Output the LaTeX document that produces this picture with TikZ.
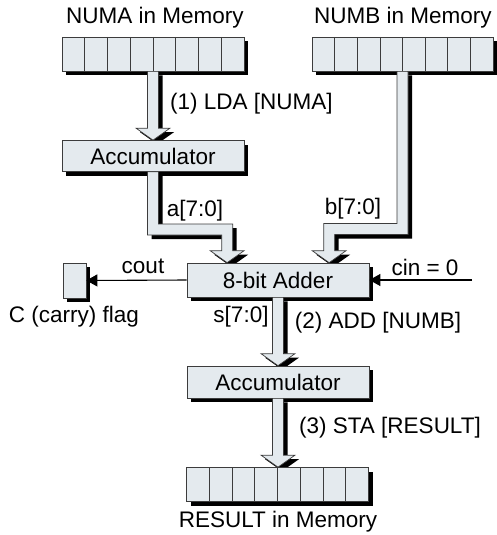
\documentclass[tikz,border=0pt]{standalone}
\usepackage{fontspec}
\setmainfont{Liberation Sans}
\usetikzlibrary{calc,arrows.meta}
\pgfdeclarelayer{back}
\pgfdeclarelayer{front}
\pgfsetlayers{back,main,front}
\definecolor{boxfill}{RGB}{228,234,238}
\definecolor{bordergray}{RGB}{60,60,60}
\newcommand\lbl{\fontsize{22.5}{26}\selectfont}
\tikzset{
  box/.style={draw=bordergray, line width=0.7pt, fill=boxfill, inner sep=0pt, font=\lbl,
    preaction={fill=black, transform canvas={shift={(4pt,-4pt)}}}},
  memory/.style={box, minimum width=182pt, minimum height=34pt,
    path picture={\foreach \i in {1,...,7}{\draw[bordergray,line width=0.7pt]
      ($(path picture bounding box.north west)!\i/8!(path picture bounding box.north east)$) --
      ($(path picture bounding box.south west)!\i/8!(path picture bounding box.south east)$);}}},
  regbox/.style={box, minimum width=182pt, minimum height=#1},
  lab/.style={font=\lbl, inner sep=0pt},
  fatshadow/.style={fill=black, transform canvas={shift={(4pt,-4pt)}}},
  fatbody/.style={fill=boxfill, draw=bordergray, line width=0.7pt},
  thin/.style={draw=black, line width=1.1pt, -{Triangle[length=11pt,width=12pt]}}
}
% straight vertical fat arrow from #1 down to #2
\newcommand\vfat[2]{%
  \foreach \lay/\sty in {back/fatshadow,front/fatbody}{%
    \begin{pgfonlayer}{\lay}
    \path[\sty] let \p1=(#1), \p2=(#2) in
      ({\x1-5.5pt},\y1) -- ({\x1-5.5pt},{\y2+12pt}) -- ({\x1-17pt},{\y2+12pt}) -- (\x1,\y2) --
      ({\x1+17pt},{\y2+12pt}) -- ({\x1+5.5pt},{\y2+12pt}) -- ({\x1+5.5pt},\y1) -- cycle;
    \end{pgfonlayer}}}
% bent fat arrow: start #1, bend height #2, end #3, signed half width #4, signed head half width #5
\newcommand\bfat[5]{%
  \foreach \lay/\sty in {back/fatshadow,front/fatbody}{%
    \begin{pgfonlayer}{\lay}
    \path[\sty] let \p1=(#1), \p2=(#2), \p3=(#3) in
      ({\x1-#4},\y1) -- ({\x1-#4},{\y2-5.5pt}) -- ({\x3-#4},{\y2-5.5pt}) -- ({\x3-#4},{\y3+12pt}) --
      ({\x3-#5},{\y3+12pt}) -- (\x3,\y3) -- ({\x3+#5},{\y3+12pt}) -- ({\x3+#4},{\y3+12pt}) --
      ({\x3+#4},{\y2+5.5pt}) -- ({\x1+#4},{\y2+5.5pt}) -- ({\x1+#4},\y1) -- cycle;
    \end{pgfonlayer}}}
\begin{document}
\begin{tikzpicture}[x=1pt,y=-1pt]
\useasboundingbox (0,0) rectangle (496,535);
% boxes
\node[memory] (numa) at (153,54) {};
\node[memory, minimum width=181pt] (numb) at (402.5,54) {};
\node[regbox=31pt] (acc1) at (153,156) {Accumulator};
\node[regbox=34pt] (adder) at (278,280) {8-bit Adder};
\node[box, minimum width=23pt, minimum height=35pt] (flag) at (74.5,280.5) {};
\node[regbox=32pt] (acc2) at (278,382) {Accumulator};
\node[memory] (result) at (277.5,484.5) {};
% labels
\node[lab] (tnuma) at (155,18) {NUMA in Memory};
\node[lab] (tnumb) at (403,18) {NUMB in Memory};
\node[lab] (tlda) at (251.5,104) {(1) LDA [NUMA]};
\node[lab] (ta) at (195,211) {a[7:0]};
\node[lab] (tb) at (353,209) {b[7:0]};
\node[lab] (tcout) at (143,266) {cout};
\node[lab] (tcin) at (425,267) {cin = 0};
\node[lab] (tflag) at (74,317) {C (carry) flag};
\node[lab] (ts) at (241,317) {s[7:0]};
\node[lab] (tadd) at (378,323) {(2) ADD [NUMB]};
\node[lab] (tsta) at (390,428) {(3) STA [RESULT]};
\node[lab] (tres) at (278,522) {RESULT in Memory};
% helper coordinates
\coordinate (abend) at (0,229.5);
\coordinate (bbend) at (0,229);
\coordinate (ain) at ($(adder.north west)+(40.5,0)$);
\coordinate (bin) at ($(adder.north west)+(142.5,0)$);
\coordinate (cinsrc) at (472,280);
% fat arrows
\vfat{numa.south}{acc1.north}
\bfat{acc1.south}{abend}{ain}{5.5pt}{17pt}
\bfat{numb.south}{bbend}{bin}{(-5.5pt)}{(-17pt)}
\vfat{adder.south}{acc2.north}
\vfat{acc2.south}{result.north}
% thin arrows
\draw[thin] (adder.west) -- (flag.east);
\draw[thin] (cinsrc) -- (adder.east);
\end{tikzpicture}
\end{document}
